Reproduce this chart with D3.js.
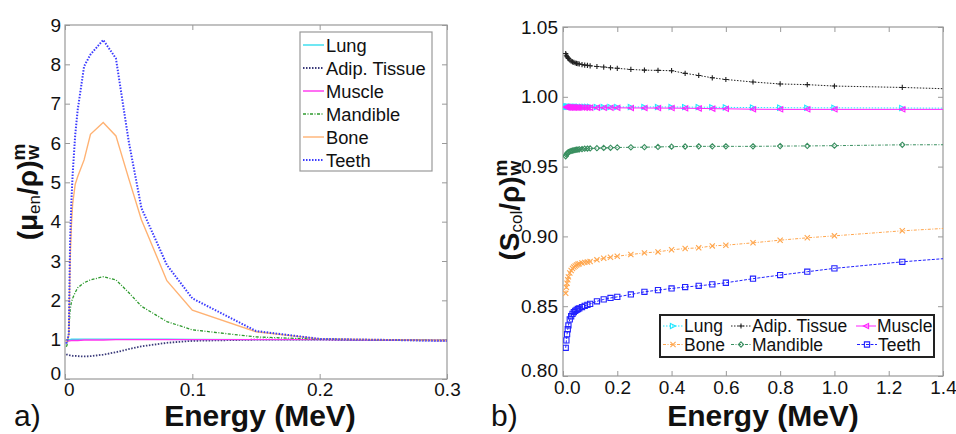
<!DOCTYPE html>
<html>
<head>
<meta charset="utf-8">
<script src="https://cdn.jsdelivr.net/npm/d3@7"></script>
<style>
  body { margin: 0; background: #fff; }
  text { font-family: "Liberation Sans", Arial, sans-serif; }
</style>
</head>
<body>
<div class="container"></div>
<script>
// panel a) energy grid and (mu_en/rho) ratios
var energyA = [0.001, 0.0015, 0.002, 0.003, 0.004, 0.005, 0.006, 0.008, 0.01, 0.015,
  0.02, 0.03, 0.04, 0.05, 0.06, 0.08, 0.1, 0.15, 0.2, 0.3];
var lungA = [1.0, 1.0, 1.0, 1.0, 1.0, 1.01, 1.01, 1.01, 1.01, 1.015, 1.015, 1.015, 1.015, 1.01, 1.01, 1.01, 1.005, 1.0, 1.0, 0.98];
var adiposeA = [0.63, 0.62, 0.62, 0.61, 0.6, 0.6, 0.59, 0.59, 0.58, 0.575, 0.58, 0.62, 0.68, 0.76, 0.83, 0.92, 0.97, 1.0, 1.0, 0.98];
var muscleA = [0.95, 0.96, 0.96, 0.97, 0.97, 0.98, 0.98, 0.98, 0.98, 0.99, 0.99, 0.99, 1.0, 1.0, 1.0, 1.0, 1.0, 1.0, 1.0, 0.98];
var mandibleA = [0.82, 0.85, 0.95, 1.2, 1.75, 1.95, 2.05, 2.2, 2.32, 2.45, 2.52, 2.6, 2.52, 2.2, 1.85, 1.46, 1.25, 1.07, 1.01, 0.98];
var boneA = [0.95, 0.97, 1.0, 1.1, 3.0, 3.9, 4.45, 4.95, 5.15, 5.57, 6.22, 6.52, 6.18, 5.1, 4.05, 2.5, 1.75, 1.2, 1.02, 0.98];
var teethA = [0.9, 0.95, 1.0, 1.15, 3.5, 4.5, 5.2, 6.2, 6.85, 7.95, 8.25, 8.62, 8.15, 6.05, 4.35, 2.9, 2.05, 1.22, 1.02, 0.97];

// panel b) energy grid and (S_col/rho) ratios
var energyB = [0.01, 0.0125, 0.015, 0.0175, 0.02, 0.025, 0.03, 0.035, 0.04, 0.045, 0.05, 0.055,
  0.06, 0.07, 0.08, 0.09, 0.1, 0.125, 0.15, 0.175, 0.2, 0.25, 0.3, 0.35, 0.4, 0.45, 0.5,
  0.55, 0.6, 0.7, 0.8, 0.9, 1.0, 1.25, 1.5];
var lungB = [0.993, 0.993, 0.993, 0.9929, 0.9929, 0.9929, 0.9929, 0.9928, 0.9928, 0.9928, 0.9928, 0.9928,
  0.9928, 0.9928, 0.9928, 0.9928, 0.9928, 0.9927, 0.9927, 0.9927, 0.9927, 0.9927, 0.9927, 0.9927, 0.9927,
  0.9926, 0.9926, 0.9925, 0.9924, 0.9923, 0.9922, 0.9921, 0.9921, 0.992, 0.9918];
var adiposeB = [1.031, 1.0298, 1.0288, 1.028, 1.0274, 1.0264, 1.0256, 1.025, 1.0246, 1.0242, 1.0239, 1.0237,
  1.0235, 1.0231, 1.0227, 1.0225, 1.0222, 1.0217, 1.0213, 1.0208, 1.0204, 1.0196, 1.0191, 1.0189, 1.0187,
  1.0168, 1.0153, 1.0136, 1.0124, 1.0106, 1.0092, 1.0087, 1.0077, 1.0067, 1.0052];
var muscleB = [0.9926, 0.9926, 0.9925, 0.9925, 0.9925, 0.9924, 0.9924, 0.9924, 0.9924, 0.9923, 0.9923, 0.9923,
  0.9923, 0.9923, 0.9922, 0.9922, 0.9922, 0.9922, 0.9921, 0.9921, 0.9921, 0.992, 0.992, 0.9919, 0.9919,
  0.9918, 0.9917, 0.9915, 0.9914, 0.9911, 0.991, 0.991, 0.991, 0.991, 0.991];
var boneB = [0.8592, 0.8635, 0.8665, 0.869, 0.871, 0.8738, 0.8756, 0.877, 0.878, 0.8788, 0.8795, 0.88,
  0.8804, 0.881, 0.8814, 0.8817, 0.882, 0.8832, 0.8843, 0.8851, 0.8858, 0.887, 0.8882, 0.8889, 0.8904,
  0.8913, 0.8918, 0.8932, 0.8937, 0.8954, 0.8973, 0.899, 0.9004, 0.904, 0.9068];
var mandibleB = [0.9574, 0.9585, 0.9593, 0.9599, 0.9603, 0.9608, 0.9612, 0.9615, 0.9617, 0.9619, 0.9621, 0.9622,
  0.9624, 0.9626, 0.9628, 0.9629, 0.963, 0.9632, 0.9634, 0.9635, 0.9637, 0.9638, 0.9639, 0.9641, 0.9643,
  0.9644, 0.9645, 0.9645, 0.9645, 0.9645, 0.9647, 0.9648, 0.965, 0.9656, 0.9657];
var teethB = [0.8202, 0.8255, 0.83, 0.8335, 0.8362, 0.8405, 0.8428, 0.8445, 0.8458, 0.8467, 0.8474, 0.848,
  0.8485, 0.8494, 0.8503, 0.851, 0.8517, 0.8535, 0.8549, 0.8559, 0.8567, 0.8584, 0.8603, 0.8615, 0.8627,
  0.8637, 0.8646, 0.8656, 0.8668, 0.8697, 0.8723, 0.8747, 0.8771, 0.8818, 0.8855];

var ticksAx = [0, 0.1, 0.2, 0.3];
var ticksAy = [0, 1, 2, 3, 4, 5, 6, 7, 8, 9];
var ticksBx = [0, 0.2, 0.4, 0.6, 0.8, 1.0, 1.2, 1.4];
var ticksBy = [0.80, 0.85, 0.90, 0.95, 1.00, 1.05];

var width = 956, height = 434;

var svg = d3.select("body").select(".container").append("svg")
  .attr("width", width)
  .attr("height", height);

svg.append("rect").attr("width", width).attr("height", height).attr("fill", "#fff");

// small marker shapes, centred on 0,0
function markerPath(type, s) {
  if (type == "triR") return "M" + (-s) + "," + (-s) + "L" + s + ",0L" + (-s) + "," + s + "Z";
  if (type == "triL") return "M" + s + "," + (-s) + "L" + (-s) + ",0L" + s + "," + s + "Z";
  if (type == "plus") return "M" + (-s) + ",0H" + s + "M0," + (-s) + "V" + s;
  if (type == "x") return "M" + (-s) + "," + (-s) + "L" + s + "," + s + "M" + (-s) + "," + s + "L" + s + "," + (-s);
  if (type == "diamond") return "M0," + (-s) + "L" + s + ",0L0," + s + "L" + (-s) + ",0Z";
  if (type == "square") return "M" + (-s) + "," + (-s) + "H" + s + "V" + s + "H" + (-s) + "Z";
  return "";
}

function drawPanel(p) {
  var x = d3.scaleLinear().domain(p.xDomain).range([p.left, p.right]);
  var y = d3.scaleLinear().domain(p.yDomain).range([p.bottom, p.top]);
  var g = svg.append("g");

  g.append("clipPath").attr("id", p.id + "-clip")
    .append("rect")
    .attr("x", p.left).attr("y", p.top)
    .attr("width", p.right - p.left).attr("height", p.bottom - p.top);

  var axes = [
    { ax: d3.axisBottom(x).tickValues(p.xTicks).tickFormat(p.xFmt), t: "translate(0," + p.bottom + ")", pad: p.padX, k: "x" },
    { ax: d3.axisTop(x).tickValues(p.xTicks).tickFormat(""), t: "translate(0," + p.top + ")", pad: 3 },
    { ax: d3.axisLeft(y).tickValues(p.yTicks).tickFormat(p.yFmt), t: "translate(" + p.left + ",0)", pad: p.padY, k: "y" },
    { ax: d3.axisRight(y).tickValues(p.yTicks).tickFormat(""), t: "translate(" + p.right + ",0)", pad: 3 }
  ];
  axes.forEach(function(a) {
    var ag = g.append("g").attr("transform", a.t)
      .call(a.ax.tickSize(-5).tickPadding(a.pad));
    ag.select(".domain").remove();
    ag.selectAll("line").attr("stroke", "#999");
    ag.selectAll("text").attr("fill", "#111").style("font-size", "19px")
      .style("font-family", "'Liberation Sans', Arial, sans-serif");
    // corner labels sit close together, as in the original; nudge them apart a little
    if (a.k == "y") ag.selectAll("text").filter(function(d) { return d == p.yDomain[0]; })
      .attr("dy", "0.05em");
    if (a.k == "x") ag.selectAll("text").filter(function(d) { return d == p.xDomain[0]; })
      .attr("dx", "0.2em");
  });

  g.append("rect")
    .attr("x", p.left).attr("y", p.top)
    .attr("width", p.right - p.left).attr("height", p.bottom - p.top)
    .attr("fill", "none").attr("stroke", "#999").attr("stroke-width", 1.2);

  var line = d3.line()
    .x(function(d) { return x(d[0]); })
    .y(function(d) { return y(d[1]); });

  var plot = g.append("g").attr("clip-path", "url(#" + p.id + "-clip)");
  p.series.forEach(function(s) {
    var pts = d3.zip(p.energy, s.values);
    plot.append("path")
      .datum(pts)
      .attr("d", line)
      .attr("fill", "none")
      .attr("stroke", s.color)
      .attr("stroke-width", s.width)
      .attr("stroke-dasharray", s.dash);
    if (s.marker) {
      plot.selectAll(null)
        .data(pts.filter(function(d) { return d[0] <= p.xDomain[1]; }))
        .enter()
        .append("path")
        .attr("transform", function(d) { return "translate(" + x(d[0]) + "," + y(d[1]) + ")"; })
        .attr("d", markerPath(s.marker, 2.6))
        .attr("fill", "none")
        .attr("stroke", s.color)
        .attr("stroke-width", 1.1);
    }
  });
  return g;
}

// ---- panel a)
drawPanel({
  id: "pa", left: 65, right: 447, top: 25, bottom: 379, padX: 4, padY: 4,
  xDomain: [0, 0.3], yDomain: [0, 9], xTicks: ticksAx, yTicks: ticksAy,
  xFmt: function(d) { return d; }, yFmt: function(d) { return d; },
  energy: energyA,
  series: [
    { name: "Lung", values: lungA, color: "#33ddee", width: 1.4, dash: null },
    { name: "Adip. Tissue", values: adiposeA, color: "#3a3a7a", width: 1.8, dash: "1.5,1.5" },
    { name: "Muscle", values: muscleA, color: "#ff33ee", width: 1.4, dash: null },
    { name: "Mandible", values: mandibleA, color: "#2e9a2e", width: 1.3, dash: "3,1.5,1,1.5" },
    { name: "Bone", values: boneA, color: "#ffb273", width: 1.4, dash: null },
    { name: "Teeth", values: teethA, color: "#3b3bff", width: 2, dash: "1.5,1.5" }
  ]
});

// ---- panel b)
drawPanel({
  id: "pb", left: 563, right: 943, top: 27, bottom: 376, padX: 5, padY: 5,
  xDomain: [0, 1.4], yDomain: [0.80, 1.05], xTicks: ticksBx, yTicks: ticksBy,
  xFmt: d3.format(".1f"), yFmt: d3.format(".2f"),
  energy: energyB,
  series: [
    { name: "Lung", values: lungB, color: "#22e6ff", width: 1, dash: "1.5,1.5", marker: "triR" },
    { name: "Adip. Tissue", values: adiposeB, color: "#222", width: 1, dash: "1.5,1.5", marker: "plus" },
    { name: "Muscle", values: muscleB, color: "#ff22ff", width: 1, dash: null, marker: "triL" },
    { name: "Bone", values: boneB, color: "#ffa64d", width: 1, dash: "3,1.5,1,1.5", marker: "x" },
    { name: "Mandible", values: mandibleB, color: "#3a8f60", width: 1, dash: "3,1.5,1,1.5", marker: "diamond" },
    { name: "Teeth", values: teethB, color: "#2222ff", width: 1, dash: "3,1.5", marker: "square" }
  ]
});

// legend a)
var legA = svg.append("g");
legA.append("rect").attr("x", 300).attr("y", 32).attr("width", 132).attr("height", 139)
  .attr("fill", "#fff").attr("stroke", "#999").attr("stroke-width", 1.2);
var legAItems = [
  { name: "Lung", color: "#33ddee", width: 1.4, dash: null },
  { name: "Adip. Tissue", color: "#3a3a7a", width: 1.8, dash: "1.5,1.5" },
  { name: "Muscle", color: "#ff33ee", width: 1.4, dash: null },
  { name: "Mandible", color: "#2e9a2e", width: 1.3, dash: "3,1.5,1,1.5" },
  { name: "Bone", color: "#ffb273", width: 1.4, dash: null },
  { name: "Teeth", color: "#3b3bff", width: 2, dash: "1.5,1.5" }
];
legAItems.forEach(function(d, i) {
  var cy = 45 + i * 23;
  legA.append("line").attr("x1", 303).attr("x2", 324).attr("y1", cy).attr("y2", cy)
    .attr("stroke", d.color).attr("stroke-width", d.width).attr("stroke-dasharray", d.dash);
  legA.append("text").attr("x", 326).attr("y", cy + 6.5).attr("font-size", 18.3)
    .attr("fill", "#111").text(d.name);
});

// legend b)
var legB = svg.append("g");
legB.append("rect").attr("x", 660).attr("y", 315).attr("width", 274).attr("height", 42)
  .attr("fill", "#fff").attr("stroke", "#222").attr("stroke-width", 2);
var legBItems = [
  { name: "Lung", color: "#22e6ff", dash: "1.5,1.5", marker: "triR", lx: 663, ty: 326 },
  { name: "Adip. Tissue", color: "#222", dash: "1.5,1.5", marker: "plus", lx: 731, ty: 326 },
  { name: "Muscle", color: "#ff22ff", dash: null, marker: "triL", lx: 856, ty: 326 },
  { name: "Bone", color: "#ffa64d", dash: "3,1.5,1,1.5", marker: "x", lx: 663, ty: 344.5 },
  { name: "Mandible", color: "#3a8f60", dash: "3,1.5,1,1.5", marker: "diamond", lx: 731, ty: 344.5 },
  { name: "Teeth", color: "#2222ff", dash: "3,1.5", marker: "square", lx: 857, ty: 344.5 }
];
legBItems.forEach(function(d) {
  legB.append("line").attr("x1", d.lx).attr("x2", d.lx + 20).attr("y1", d.ty).attr("y2", d.ty)
    .attr("stroke", d.color).attr("stroke-width", 1).attr("stroke-dasharray", d.dash);
  legB.append("path").attr("transform", "translate(" + (d.lx + 10) + "," + d.ty + ")")
    .attr("d", markerPath(d.marker, 2.6)).attr("fill", "none")
    .attr("stroke", d.color).attr("stroke-width", 1.1);
  legB.append("text").attr("x", d.lx + 21).attr("y", d.ty + 6.3).attr("font-size", 17.5)
    .attr("fill", "#111").text(d.name);
});

// x labels and panel letters
[{ x: 260, t: "Energy (MeV)" }, { x: 763, t: "Energy (MeV)" }].forEach(function(d) {
  svg.append("text").attr("x", d.x).attr("y", 426).attr("text-anchor", "middle")
    .attr("font-size", 30).attr("font-weight", "bold").attr("fill", "#111").text(d.t);
});
svg.append("text").attr("x", 14).attr("y", 426).attr("font-size", 30).attr("fill", "#111").text("a)");
svg.append("text").attr("x", 491).attr("y", 426).attr("font-size", 30).attr("fill", "#111").text("b)");

// rotated y labels with sub/superscripts
function yLabel(cx, cy, main, sub) {
  var t = svg.append("text")
    .attr("transform", "translate(" + cx + "," + cy + ") rotate(-90)")
    .attr("text-anchor", "middle")
    .attr("font-size", 28).attr("font-weight", "bold").attr("fill", "#111");
  t.append("tspan").text(main);
  t.append("tspan").attr("font-size", 17).attr("font-weight", "normal").attr("dy", 3).text(sub);
  t.append("tspan").attr("dy", -3).text("/\u03c1)");
  t.append("tspan").attr("font-size", 19).attr("dy", -12).text("m");
  t.append("tspan").attr("font-size", 19).attr("dx", -16).attr("dy", 14).text("w");
}
yLabel(37, 192, "(\u03bc", "en");
yLabel(519, 210, "(S", "col");
</script>
</body>
</html>
